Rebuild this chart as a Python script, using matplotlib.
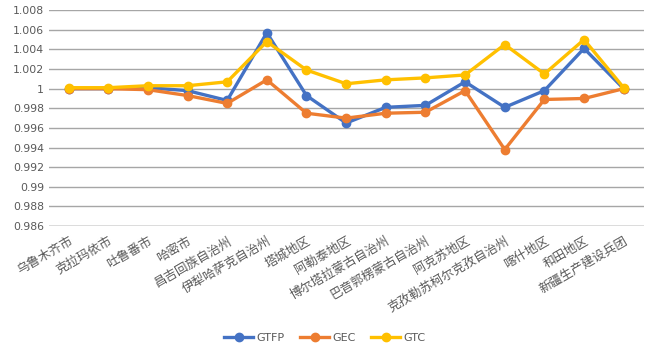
import matplotlib
matplotlib.use("Agg")
import matplotlib.pyplot as plt

plt.rcParams["font.family"] = ["Noto Sans CJK SC", "DejaVu Sans"]

regions = ["乌鲁木齐市", "克拉玛依市", "吐鲁番市", "哈密市", "昌吉回族自治州",
           "伊犁哈萨克自治州", "塔城地区", "阿勒泰地区", "博尔塔拉蒙古自治州",
           "巴音郭楞蒙古自治州", "阿克苏地区", "克孜勒苏柯尔克孜自治州",
           "喀什地区", "和田地区", "新疆生产建设兵团"]
gtfp = [1.0000, 1.0000, 1.0001, 0.9998, 0.9988, 1.0057, 0.9993, 0.9965,
        0.9981, 0.9983, 1.0007, 0.9981, 0.9998, 1.0041, 1.0000]
gec = [1.0000, 1.0000, 0.9999, 0.9993, 0.9985, 1.0009, 0.9975, 0.9970,
       0.9975, 0.9976, 0.9998, 0.9938, 0.9989, 0.9990, 1.0000]
gtc = [1.0001, 1.0001, 1.0003, 1.0003, 1.0007, 1.0048, 1.0019, 1.0005,
       1.0009, 1.0011, 1.0014, 1.0045, 1.0015, 1.0050, 1.0001]
y_ticks = [0.986, 0.988, 0.99, 0.992, 0.994, 0.996, 0.998, 1,
           1.002, 1.004, 1.006, 1.008]
y_labels = ["0.986", "0.988", "0.99", "0.992", "0.994", "0.996", "0.998", "1",
            "1.002", "1.004", "1.006", "1.008"]

series = [("GTFP", gtfp, "#4472c4"), ("GEC", gec, "#ed7d31"), ("GTC", gtc, "#ffc000")]

fig = plt.figure(figsize=(6.5, 3.5), dpi=100)
ax = fig.add_axes([0.075, 0.354, 0.915, 0.617])

x = list(range(len(regions)))
for name, vals, col in series:
    ax.plot(x, vals, color=col, lw=2.4, marker="o", ms=6, label=name)

ax.set_xlim(-0.5, len(regions) - 0.5)
ax.set_ylim(0.986, 1.008)
ax.set_yticks(y_ticks)
ax.set_yticklabels(y_labels, family="DejaVu Sans", fontsize=7.8, color="#595959")
ax.set_xticks(x)
ax.set_xticklabels(regions, rotation=30, ha="right", rotation_mode="anchor",
                   fontsize=9, color="#595959")
ax.tick_params(length=0)
ax.tick_params(axis="x", pad=6)
ax.grid(axis="y", color="#a6a6a6", lw=1)
ax.set_axisbelow(True)
for s in ax.spines.values():
    s.set_visible(False)
ax.axhline(0.986, color="#d9d9d9", lw=1.2)

leg = fig.legend(loc="center", bbox_to_anchor=(0.5, 0.035), ncol=3, frameon=False,
                 handlelength=2.6, columnspacing=1.4, handletextpad=0.3,
                 prop={"family": "DejaVu Sans", "size": 8})
for t in leg.get_texts():
    t.set_color("#595959")

fig.savefig("out.png", dpi=100, facecolor="white")
